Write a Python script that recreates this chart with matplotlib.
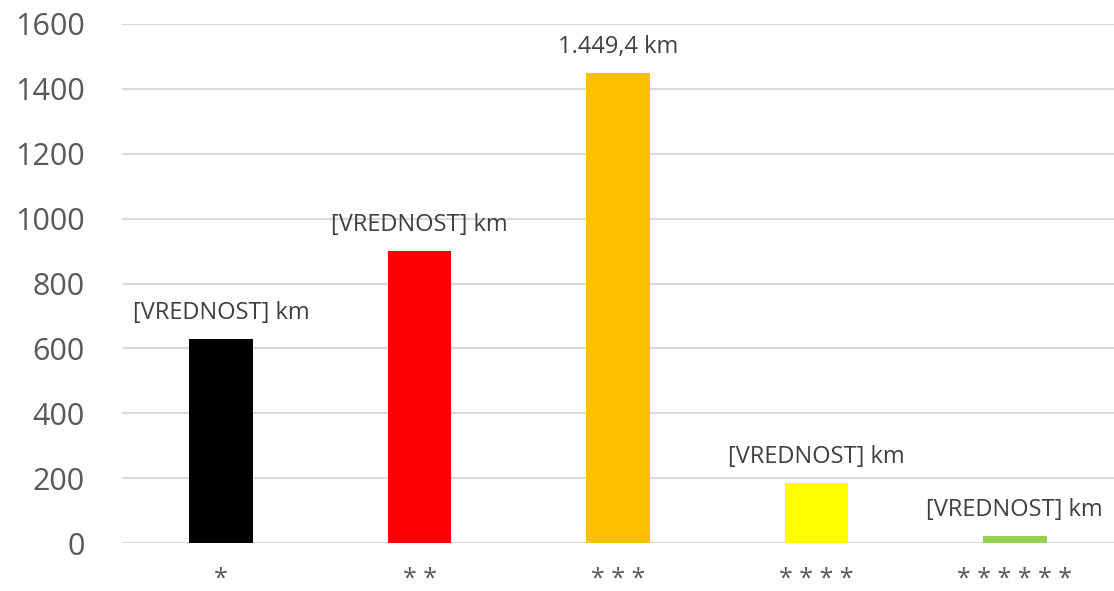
import matplotlib
matplotlib.use("Agg")
import matplotlib.pyplot as plt

categories = ["*", "* *", "* * *", "* * * *", "* * * * * *"]
values = [628, 900, 1449.4, 186, 22]
labels = ["[VREDNOST] km", "[VREDNOST] km", "1.449,4 km", "[VREDNOST] km", "[VREDNOST] km"]
colors = ["#000000", "#FF0000", "#FFC000", "#FFFF00", "#92D050"]

plt.rcParams["font.family"] = ["Open Sans", "DejaVu Sans"]
text_color = "#595959"

fig = plt.figure(figsize=(11.14, 5.91), dpi=100)
ax = fig.add_axes([0.1095, 0.0812, 0.8905, 0.8782])

x = list(range(len(categories)))
bars = ax.bar(x, values, width=0.32, color=colors, zorder=3)
for b, lab in zip(bars, labels):
    ax.annotate(lab, (b.get_x() + b.get_width() / 2, b.get_height()),
                xytext=(0, 10), textcoords="offset points",
                ha="center", va="bottom", fontsize=17, color="#404040")

ax.set_xlim(-0.5, len(categories) - 0.5)
ax.set_ylim(0, 1600)
ax.set_yticks(range(0, 1601, 200))
ax.set_xticks(x)
ax.set_xticklabels(categories)
ax.tick_params(axis="y", length=0, labelsize=22, labelcolor=text_color, pad=27)
ax.tick_params(axis="x", length=0, labelsize=18, labelcolor=text_color, pad=17)
ax.grid(axis="y", color="#D9D9D9", linewidth=1.5, zorder=0)
for s in ax.spines.values():
    s.set_visible(False)

fig.savefig("out.png", dpi=100)
